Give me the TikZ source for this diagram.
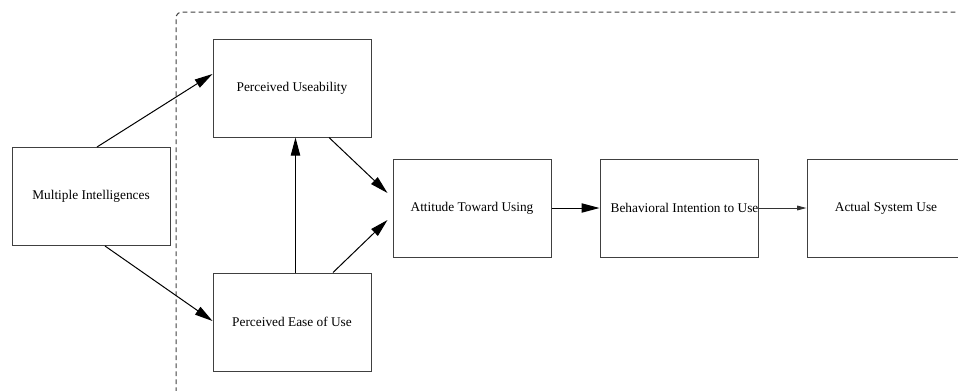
\documentclass[tikz,border=0pt]{standalone}
\usepackage{fontspec}
\setmainfont{Liberation Serif}
\usetikzlibrary{arrows.meta,calc}
\begin{document}
\begin{tikzpicture}[x=0.75pt,y=-0.75pt,
  box/.style={draw=black!75,line width=0.75pt,rectangle,minimum width=158*0.75pt,minimum height=98*0.75pt,inner sep=0pt,font=\fontsize{10}{12}\selectfont},
  conn/.style={line width=0.75pt,-{Triangle[length=13.5pt,width=7pt]}},
  smallconn/.style={line width=0.75pt,black!80,-{Triangle[length=7pt,width=3.5pt]}},
  frame/.style={draw=black!75,line width=0.75pt,dash pattern=on 3.5pt off 2.5pt,rounded corners=4.5pt}]
\useasboundingbox (0,0) rectangle (958,390);
\clip (0,0) rectangle (958,390);
\draw[frame] (176,392) -- (176,12) -- (960,12);
\node[box] (mi) at (91,196.5) {Multiple Intelligences};
\node[box] (pu) at (292,88) {Perceived Useability};
\node[box] (peu) at (292,322) {Perceived Ease of Use};
\node[box] (atu) at (472,208) {Attitude Toward Using};
\node[box] (biu) at (679,208) {};
\node[font=\fontsize{10}{12}\selectfont,inner sep=0pt] (biut) at ([xshift=5.5*0.75pt]biu.center) {Behavioral Intention to Use};
\node[box] (asu) at (886,208) {Actual System Use};
\draw[conn] ([xshift=6*0.75pt]mi.north) -- ($(pu.west)+(0,-14)$);
\draw[conn] ([xshift=14*0.75pt]mi.south) -- ($(peu.west)+(0,-1)$);
\draw[conn] ([xshift=37*0.75pt]pu.south) -- ($(atu.west)+(-5,-15)$);
\draw[conn] ([xshift=41*0.75pt]peu.north) -- ($(atu.west)+(-5,12)$);
\draw[conn] ([xshift=3.5*0.75pt]peu.north) -- ([xshift=3.5*0.75pt]pu.south);
\draw[conn] (atu.east) -- (biu.west);
\draw[smallconn] (biu.east) -- (asu.west);
\end{tikzpicture}
\end{document}
